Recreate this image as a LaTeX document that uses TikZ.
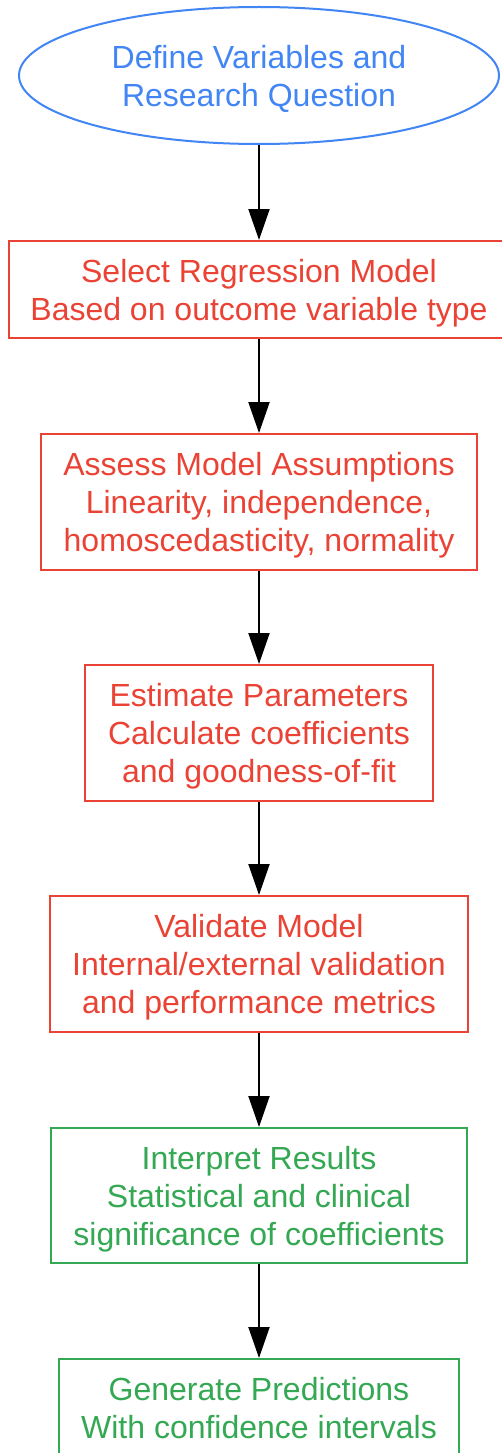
\documentclass[tikz,border=0pt]{standalone}
\usepackage{fontspec}
\setmainfont{Liberation Sans}
\usetikzlibrary{shapes.geometric,arrows.meta}
\definecolor{gblue}{HTML}{4285F4}
\definecolor{gred}{HTML}{EA4335}
\definecolor{ggreen}{HTML}{34A853}
\newcommand\lowtxt[1]{\raisebox{-4pt}[\height][\depth]{\begin{tabular}{@{}c@{}}#1\end{tabular}}}
\tikzset{
  every node/.style={font=\fontsize{32}{38}\selectfont, inner sep=0pt},
  startnode/.style={ellipse, draw=gblue, text=gblue, line width=2pt, minimum width=480pt, minimum height=137pt},
  redbox/.style={rectangle, draw=gred, text=gred, line width=2pt},
  greenbox/.style={rectangle, draw=ggreen, text=ggreen, line width=2pt},
  flow/.style={line width=2pt, -{Triangle[length=31pt,width=21pt]}},
}
\begin{document}
\begin{tikzpicture}[x=1pt,y=-1pt]
\clip (0,0) rectangle (502,1453);
\fill[white] (0,0) rectangle (502,1453);
\node[startnode] (define) at (259,75.5) {\lowtxt{Define Variables and\\Research Question}};
\node[redbox, minimum width=500pt, minimum height=97pt] (select) at (259,289.5) {\lowtxt{Select Regression Model\\Based on outcome variable type}};
\node[redbox, minimum width=436pt, minimum height=136pt] (assess) at (259,502) {\lowtxt{Assess Model Assumptions\\Linearity, independence,\\homoscedasticity, normality}};
\node[redbox, minimum width=348pt, minimum height=136pt] (estimate) at (259,733) {\lowtxt{Estimate Parameters\\Calculate coefficients\\and goodness-of-fit}};
\node[redbox, minimum width=418pt, minimum height=136pt] (validate) at (259,964) {\lowtxt{Validate Model\\Internal/external validation\\and performance metrics}};
\node[greenbox, minimum width=416pt, minimum height=135pt] (interpret) at (259,1195.5) {\lowtxt{Interpret Results\\Statistical and clinical\\significance of coefficients}};
\node[greenbox, minimum width=400pt, minimum height=97pt] (predict) at (259,1407.5) {\lowtxt{Generate Predictions\\With confidence intervals}};
\draw[flow] (define.south) -- (select.north);
\draw[flow] (select.south) -- (assess.north);
\draw[flow] (assess.south) -- (estimate.north);
\draw[flow] (estimate.south) -- (validate.north);
\draw[flow] (validate.south) -- (interpret.north);
\draw[flow] (interpret.south) -- (predict.north);
\end{tikzpicture}
\end{document}
